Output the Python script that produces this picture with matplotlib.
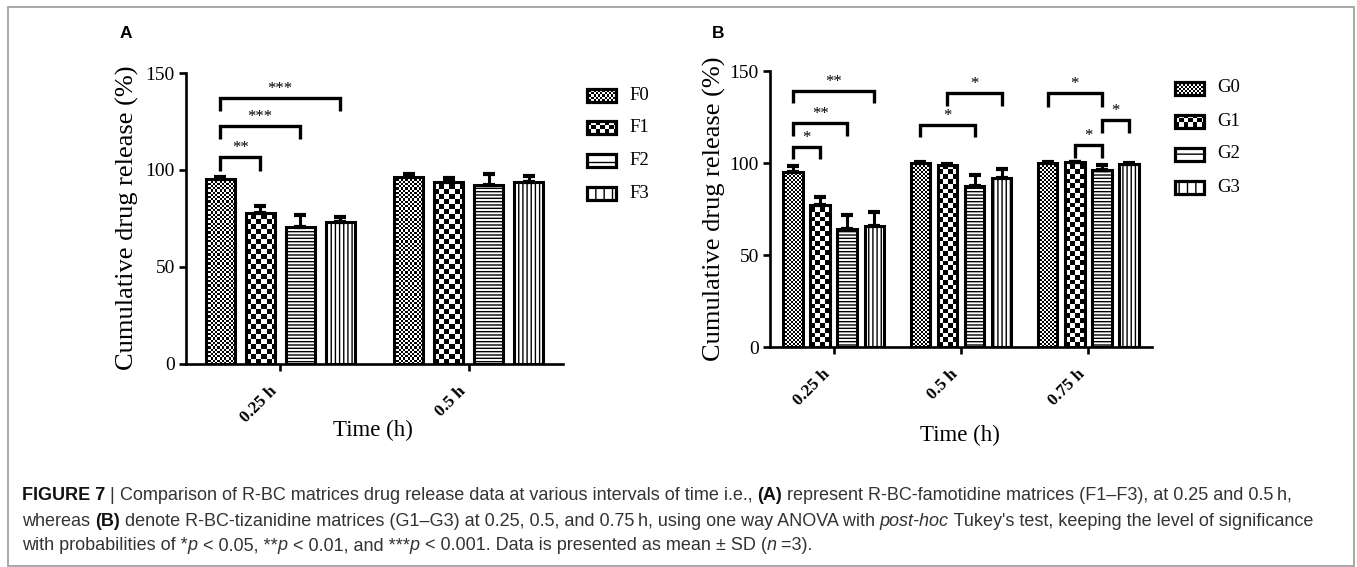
import matplotlib
matplotlib.use('Agg')
import numpy as np
import matplotlib.pyplot as plt
from matplotlib.patches import Rectangle

# ---------------- data ----------------
A_times = ['0.25 h', '0.5 h']
A_series = ['F0', 'F1', 'F2', 'F3']
A_mean = [[95.4, 96.6], [77.8, 93.8], [70.6, 92.5], [73.2, 93.8]]
A_sd = [[1.0, 1.5], [3.6, 2.0], [6.2, 5.5], [2.6, 3.0]]
# (group, bar i, bar j, bracket height, leg bottom, label)
A_sig = [(0, 0, 1, 106.7, 99.5, '**'),
         (0, 0, 2, 122.7, 116.0, '***'),
         (0, 0, 3, 137.1, 130.4, '***')]

B_times = ['0.25 h', '0.5 h', '0.75 h']
B_series = ['G0', 'G1', 'G2', 'G3']
B_mean = [[95.1, 100.0, 100.0], [77.2, 98.9, 100.3], [64.1, 87.5, 96.2], [65.8, 91.8, 99.4]]
B_sd = [[3.3, 0.3, 0.3], [4.3, 0.4, 0.4], [7.6, 6.0, 2.7], [7.6, 5.0, 0.8]]
B_sig = [(0, 0, 1, 108.7, 102.2, '*'),
         (0, 0, 2, 121.7, 114.7, '**'),
         (0, 0, 3, 139.0, 132.6, '**'),
         (1, 0, 2, 120.7, 114.0, '*'),
         (1, 1, 3, 138.0, 131.0, '*'),
         (2, 0, 2, 138.0, 130.4, '*'),
         (2, 2, 3, 123.4, 116.3, '*'),
         (2, 1, 2, 109.8, 102.7, '*')]

y_ticks = [0, 50, 100, 150]
y_label = 'Cumulative drug release (%)'
x_label = 'Time (h)'

# ---------------- style ----------------
W, H = 1357, 567
SERIF = ['Liberation Serif', 'DejaVu Serif']
SANS = ['Liberation Sans', 'DejaVu Sans']
plt.rcParams['hatch.linewidth'] = 1.0
plt.rcParams['font.family'] = SERIF

fig = plt.figure(figsize=(W / 100, H / 100), dpi=100)
over = fig.add_axes([0, 0, 1, 1], zorder=0)
over.set_xlim(0, W)
over.set_ylim(H, 0)
over.axis('off')

FILLS = ['fine', 'check', '-----', '||||']


def add_checker(ax, x0, y0, w, h, sq_px, clip, zorder=2):
    (px0, py0), (px1, py1) = ax.transData.transform([(x0, y0), (x0 + w, y0 + h)])
    wpx, hpx = abs(px1 - px0), abs(py1 - py0)
    if hpx < 1:
        return
    nx = int(np.ceil(wpx / sq_px))
    ny = int(np.ceil(hpx / sq_px))
    arr = np.add.outer(np.arange(ny), np.arange(nx)) % 2
    xs = w / wpx * sq_px * nx
    ys = h / hpx * sq_px * ny
    if ax.yaxis_inverted():
        ext = (x0, x0 + xs, y0 + h, y0 + h - ys)
        origin = 'upper'
    else:
        ext = (x0, x0 + xs, y0, y0 + ys)
        origin = 'lower'
    im = ax.imshow(arr, cmap='gray', extent=ext, origin=origin, interpolation='nearest',
                   aspect='auto', zorder=zorder, vmin=0, vmax=1)
    im.set_clip_path(clip)


def panel(rect_px, times, series, means, sds, sig, fine_sq, check_sq):
    l, r, b, t = rect_px
    ax = fig.add_axes([l / W, 1 - b / H, (r - l) / W, (b - t) / H], zorder=2)
    ax.set_xlim(-0.5, len(times) - 0.5)
    ax.set_ylim(0, 150)
    for s in ['top', 'right']:
        ax.spines[s].set_visible(False)
    for s in ['left', 'bottom']:
        ax.spines[s].set_linewidth(1.9)
    ax.patch.set_visible(False)
    pitch, width = 0.213, 0.154
    x = np.arange(len(times))
    for k in range(len(series)):
        xk = x + (k - 1.5) * pitch
        hatch = FILLS[k] if FILLS[k] not in ('fine', 'check') else None
        bars = ax.bar(xk, means[k], width=width, facecolor='white', edgecolor='black',
                      linewidth=2.2, hatch=hatch, zorder=3 if hatch is None else 2)
        if hatch is None:
            for bar in bars:
                bar.set_facecolor('none')
                add_checker(ax, bar.get_x(), 0, bar.get_width(), bar.get_height(),
                            fine_sq if FILLS[k] == 'fine' else check_sq, bar, zorder=2)
        ax.errorbar(xk, means[k], yerr=[np.zeros(len(times)), sds[k]], fmt='none',
                    ecolor='black', elinewidth=2.2, capsize=4.5, capthick=3.0, zorder=4)
    ax.set_xlim(-0.5, len(times) - 0.5)
    ax.set_ylim(0, 150)
    for g, i, j, yb, yl, lab in sig:
        xi = g + (i - 1.5) * pitch
        xj = g + (j - 1.5) * pitch
        ax.plot([xi, xi, xj, xj], [yl, yb, yb, yl], color='black', lw=2.4,
                solid_joinstyle='miter', solid_capstyle='butt', zorder=5, clip_on=False)
        ax.annotate(lab, ((xi + xj) / 2, yb), xytext=(0, 3.5), textcoords='offset points',
                    ha='center', va='baseline', fontsize=12, family=SERIF, zorder=6)
    ax.set_yticks(y_ticks)
    ax.set_yticklabels([str(v) for v in y_ticks], fontsize=14, family=SERIF)
    ax.set_xticks(x)
    ax.set_xticklabels(times, rotation=45, ha='right', va='top', fontsize=12.5,
                       fontweight='bold', family=SERIF)
    ax.tick_params(axis='both', length=5, width=1.9, color='black')
    ax.tick_params(axis='x', pad=9)
    ax.tick_params(axis='y', pad=3)
    return ax


axA = panel((186, 563, 364, 73), A_times, A_series, A_mean, A_sd, A_sig, 2.2, 5.0)
axB = panel((770, 1152, 347, 71), B_times, B_series, B_mean, B_sd, B_sig, 2.0, 4.8)

# axis titles
over.text(373, 430, x_label, ha='center', va='center', fontsize=16.5, family=SERIF)
over.text(960, 435, x_label, ha='center', va='center', fontsize=16.5, family=SERIF)
over.text(127, 218, y_label, ha='center', va='center', rotation=90, fontsize=19, family=SERIF)
over.text(714, 209, y_label, ha='center', va='center', rotation=90, fontsize=19, family=SERIF)

# panel letters
over.text(120, 33, 'A', ha='left', va='center', fontsize=12.5, fontweight='bold', family=SANS)
over.text(712, 33, 'B', ha='left', va='center', fontsize=12.5, fontweight='bold', family=SANS)


# legends
def legend(x0, y0, dy, series, fine_sq, check_sq):
    for k, name in enumerate(series):
        yc = y0 + k * dy
        rect = Rectangle((x0, yc - 6.5), 29, 13, facecolor='white', edgecolor='black',
                         linewidth=2.3, zorder=3,
                         hatch=None if FILLS[k] in ('fine', 'check') else FILLS[k][:2])
        over.add_patch(rect)
        if FILLS[k] in ('fine', 'check'):
            rect.set_facecolor('none')
            add_checker(over, x0, yc - 6.5, 29, 13, fine_sq if FILLS[k] == 'fine' else check_sq,
                        rect, zorder=2)
        over.text(x0 + 42, yc, name, ha='left', va='center', fontsize=13.5, family=SERIF)


legend(587, 95, 32.7, A_series, 2.2, 4.5)
legend(1175, 88, 33.0, B_series, 2.0, 4.5)
over.set_xlim(0, W)
over.set_ylim(H, 0)

# caption
renderer = fig.canvas.get_renderer()
CAP = 13.0
CCOL = '#333333'


def seg_width(s, **kw):
    t1 = over.text(0, 0, 'x' + s + 'x', fontsize=CAP, family=SANS, **kw)
    t2 = over.text(0, 0, 'xx', fontsize=CAP, family=SANS, **kw)
    w = t1.get_window_extent(renderer).width - t2.get_window_extent(renderer).width
    t1.remove()
    t2.remove()
    return w


def caption_line(x, y, segs):
    for s, st in segs:
        kw = {}
        if st == 'b':
            kw['fontweight'] = 'bold'
        if st == 'i':
            kw['fontstyle'] = 'italic'
        col = '#111111' if st == 'b' else CCOL
        over.text(x, y, s, ha='left', va='center', fontsize=CAP, family=SANS, color=col, **kw)
        x += seg_width(s, **kw)


cap_lines = [
    [('FIGURE 7', 'b'), (' | ', 'n'),
     ('Comparison of R-BC matrices drug release data at various intervals of time i.e., ', 'n'),
     ('(A)', 'b'), (' represent R-BC-famotidine matrices (F1\u2013F3), at 0.25 and 0.5\u2009h,', 'n')],
    [('whereas ', 'n'), ('(B)', 'b'),
     (' denote R-BC-tizanidine matrices (G1\u2013G3) at 0.25, 0.5, and 0.75\u2009h, using one way ANOVA with ', 'n'),
     ('post-hoc', 'i'), (" Tukey's test, keeping the level of significance", 'n')],
    [('with probabilities of *', 'n'), ('p', 'i'), (' < 0.05, **', 'n'), ('p', 'i'),
     (' < 0.01, and ***', 'n'), ('p', 'i'), (' < 0.001. Data is presented as mean \u00b1 SD (', 'n'),
     ('n', 'i'), (' =3).', 'n')],
]
for li, segs in enumerate(cap_lines):
    caption_line(22, 496 + 25 * li, segs)

# frame
over.add_patch(Rectangle((8, 7), 1346, 559, fill=False, edgecolor='#9a9a9a', linewidth=1.2, zorder=1))

fig.savefig('out.png', dpi=100)
